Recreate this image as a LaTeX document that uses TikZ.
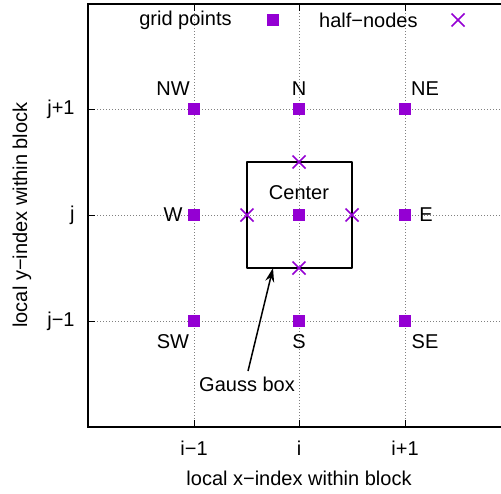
\documentclass[tikz,border=0pt]{standalone}
\usepackage{fontspec}
\setmainfont{Liberation Sans}
\usetikzlibrary{arrows.meta}
\definecolor{dv}{HTML}{9400D3}
\begin{document}
\begin{tikzpicture}[x=0.5pt,y=-0.5pt,
  lab/.style={font=\fontsize{10}{12}\selectfont, inner sep=0pt},
  gridline/.style={gray, line width=0.4pt, dash pattern=on 0.5pt off 1pt},
  frame/.style={black, line width=1pt},
  gpt/.style={fill=dv, draw=none},
  hn/.style={dv, line width=0.75pt},
  boxline/.style={black, line width=1pt, line join=round},
  tick/.style={black, line width=0.5pt}]
\useasboundingbox (0,0) rectangle (501,493);
% grid
\foreach \x in {194,299,405} \draw[gridline] (\x,4) -- (\x,427);
\foreach \y in {109,215,321} \draw[gridline] (88,\y) -- (501,\y);
% ticks
\foreach \x in {194,299,405} {\draw[tick] (\x,4) -- (\x,11); \draw[tick] (\x,427) -- (\x,420);}
\foreach \y in {109,215,321} \draw[tick] (88,\y) -- (95,\y);
% frame
\draw[frame] (501,4) -- (88,4) -- (88,427) -- (501,427);
% Gauss box
\draw[boxline] (247,162) rectangle (352,268);
% grid points
\foreach \x in {194,299,405} \foreach \y in {109,215,321}
  \fill[gpt] (\x-6,\y-6) rectangle (\x+6,\y+6);
% half nodes
\foreach \p in {(247,215),(352,215),(299,162),(299,268)} {
  \draw[hn] \p ++(-6.5,-6.5) -- ++(13,13);
  \draw[hn] \p ++(-6.5,6.5) -- ++(13,-13);
}
% labels
\node[lab] (nw) at (173,89) {NW};
\node[lab] (n) at (299,89) {N};
\node[lab] (ne) at (425,89) {NE};
\node[lab] (w) at (173,215) {W};
\node[lab] (e) at (426,215) {E};
\node[lab] (sw) at (173,342) {SW};
\node[lab] (s) at (299,342) {S};
\node[lab] (se) at (425,342) {SE};
\node[lab] (center) at (299,193) {Center};
\node[lab] (gauss) at (247,384) {Gauss box};
\coordinate (tail) at (248,371);
\coordinate (head) at (273,268);
\draw[black, line width=0.75pt, -{Stealth[length=7pt,width=4.5pt]}] (tail) -- (head);
% legend
\node[lab, anchor=east] (lg1) at (232,20) {grid points};
\fill[gpt] (267,14) rectangle (279,26);
\node[lab, anchor=east] (lg2) at (418,20) {half−nodes};
\draw[hn] (451.5,13.5) -- ++(13,13);
\draw[hn] (451.5,26.5) -- ++(13,-13);
% axis tick labels
\node[lab] (xt1) at (194,448) {i−1};
\node[lab] (xt2) at (299,448) {i};
\node[lab] (xt3) at (405,448) {i+1};
\node[lab, anchor=east] (yt1) at (75,109) {j+1};
\node[lab, anchor=east] (yt2) at (75,215) {j};
\node[lab, anchor=east] (yt3) at (75,321) {j−1};
\node[lab] (xl) at (299,478) {local x−index within block};
\node[lab, rotate=90] (yl) at (22,215) {local y−index within block};
\end{tikzpicture}
\end{document}
